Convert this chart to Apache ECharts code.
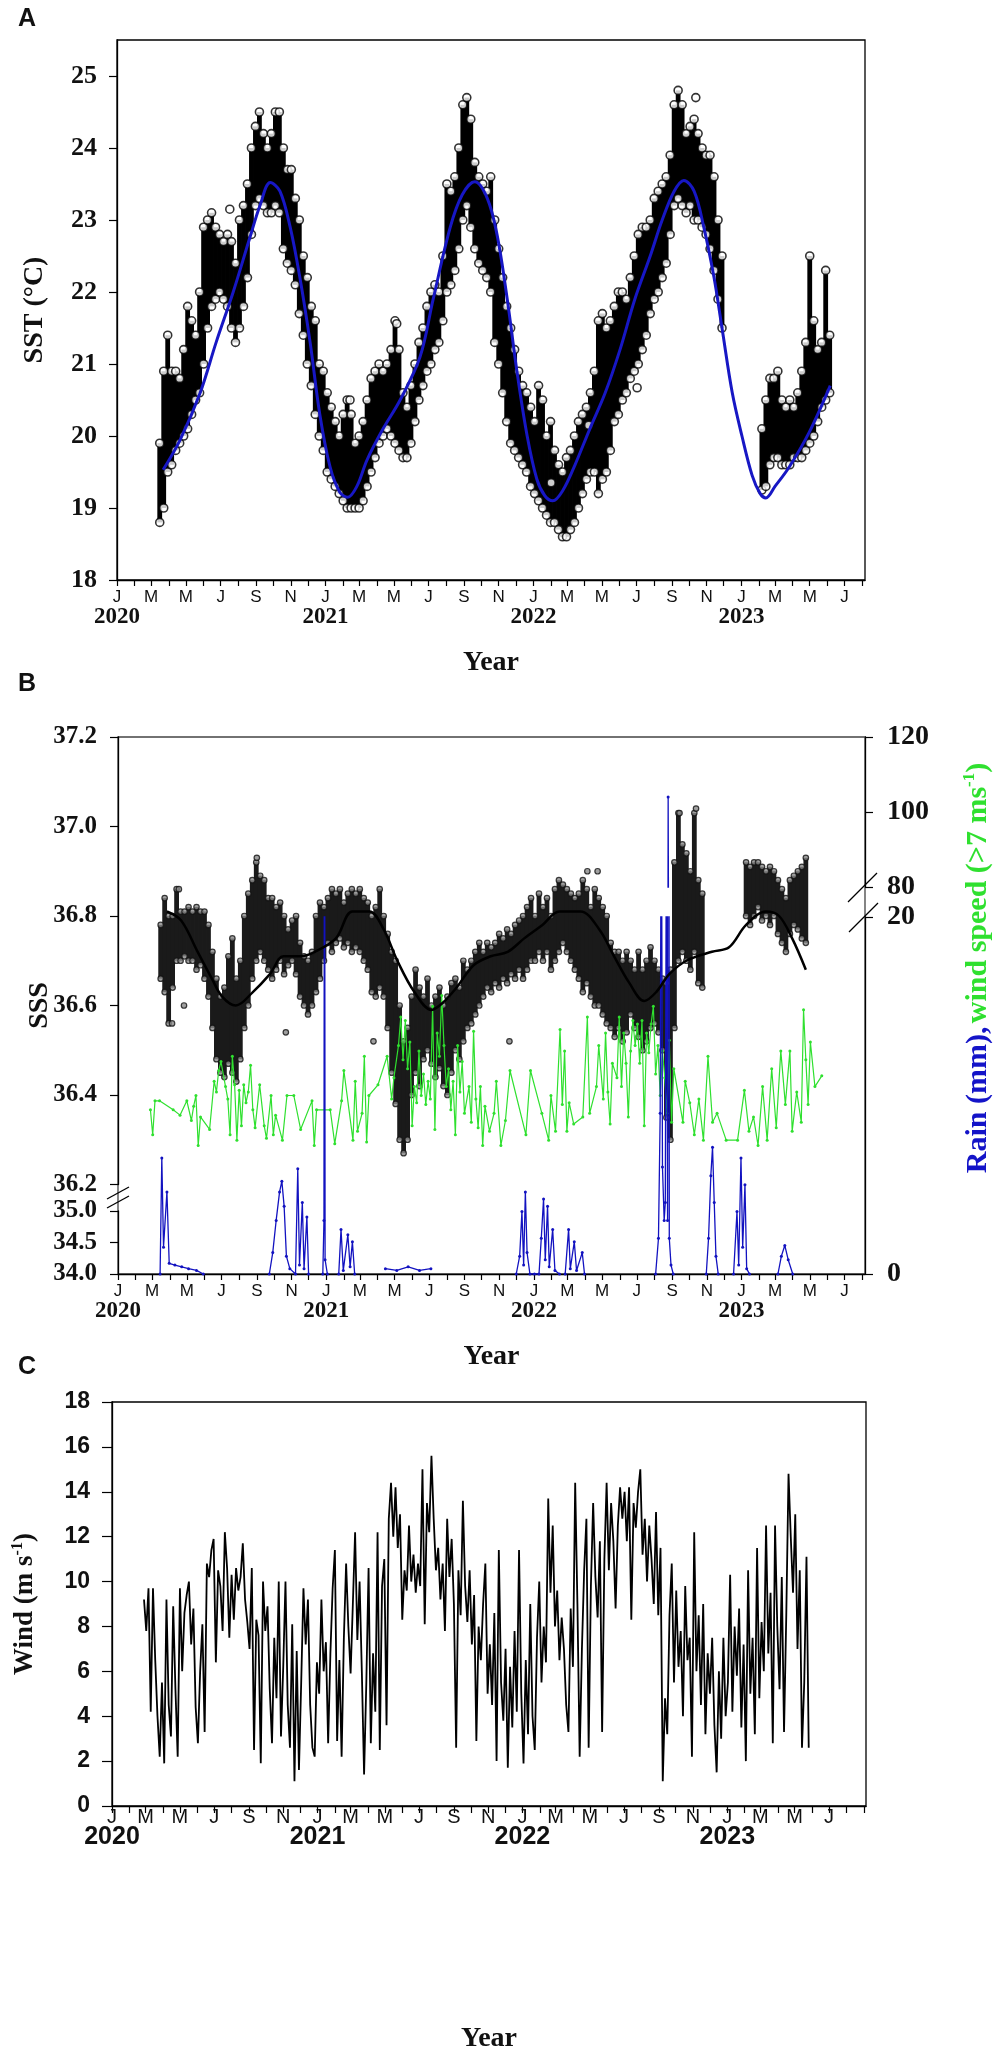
<!DOCTYPE html>
<html>
<head>
<meta charset="UTF-8">
<title>SST, SSS, rain and wind</title>
<style>
  html, body { margin: 0; padding: 0; background: #fff; }
  #chart { width: 1004px; height: 2064px; }
</style>
</head>
<body>
<div id="chart"></div>
<script src="https://cdn.jsdelivr.net/npm/echarts@6/dist/echarts.min.js"></script>
<script type="text/javascript">
// x values are days counted from 2020-01-01
var weekStart = 75; // 2020-03-16, first weekly SST / SSS sample
var weekStep = 7;

// SST (panel A): weekly low / high of the point cloud
var sstLo = [18.8,19.0,19.5,19.6,19.8,19.9,20.0,20.1,20.3,20.5,
  20.6,21.0,21.5,21.8,21.9,22.0,21.9,21.8,21.5,21.3,
  21.5,21.8,22.2,22.8,23.2,23.3,23.2,23.1,23.1,23.2,
  23.1,22.6,22.4,22.3,22.1,21.7,21.4,21.0,20.7,20.3,
  20.0,19.8,19.5,19.4,19.3,19.2,19.1,19.0,19.0,19.0,
  19.0,19.1,19.3,19.5,19.7,19.9,20.0,20.1,20.0,19.9,
  19.8,19.7,19.7,19.9,20.2,20.5,20.7,20.9,21.0,21.2,
  21.3,21.6,22.0,22.1,22.3,22.6,23.0,23.2,22.9,22.6,
  22.4,22.3,22.2,22.0,21.3,21.0,20.6,20.2,19.9,19.8,
  19.7,19.6,19.5,19.3,19.2,19.1,19.0,18.9,18.8,18.8,
  18.7,18.6,18.6,18.7,18.8,19.0,19.2,19.4,19.5,19.5,
  19.2,19.4,19.5,19.8,20.2,20.3,20.5,20.6,20.8,20.9,
  21.0,21.2,21.4,21.7,21.9,22.0,22.2,22.4,22.8,23.2,
  23.3,23.2,23.1,23.2,23.0,23.0,22.9,22.8,22.6,22.3,
  21.9,21.5,null,null,null,null,null,null,null,null,
  null,19.25,19.3,19.6,19.7,19.7,19.6,19.6,19.6,19.7,
  19.7,19.7,19.8,19.9,20.0,20.2,20.4,20.5,20.6];
var sstHi = [19.9,20.9,21.4,20.9,20.9,20.8,21.2,21.8,21.6,21.4,
  22.0,22.9,23.0,23.1,22.9,22.8,22.7,22.8,22.7,22.4,
  23.0,23.2,23.5,24.0,24.3,24.5,24.2,24.0,24.2,24.5,
  24.5,24.0,23.7,23.7,23.3,23.0,22.5,22.2,21.8,21.6,
  21.0,20.9,20.6,20.4,20.2,20.0,20.3,20.5,20.3,19.9,
  20.0,20.2,20.5,20.8,20.9,21.0,20.9,21.0,21.2,21.6,
  21.2,20.6,20.4,20.7,21.0,21.3,21.5,21.8,22.0,22.1,
  22.0,22.5,23.5,23.4,23.6,24.0,24.6,24.7,24.4,23.8,
  23.6,23.5,23.4,23.6,23.0,22.6,22.2,21.8,21.5,21.2,
  20.9,20.7,20.6,20.4,20.2,20.7,20.5,20.0,20.2,19.8,
  19.6,19.5,19.7,19.8,20.0,20.2,20.3,20.4,20.6,20.9,
  21.6,21.7,21.5,21.6,21.8,22.0,22.0,21.9,22.2,22.5,
  22.8,22.9,22.9,23.0,23.3,23.4,23.5,23.6,23.9,24.6,
  24.8,24.6,24.2,24.3,24.4,24.2,24.0,23.9,23.9,23.6,
  23.0,22.5,null,null,null,null,null,null,null,null,
  null,20.1,20.5,20.8,20.8,20.9,20.5,20.4,20.5,20.4,
  20.6,20.9,21.3,22.5,21.6,21.2,21.3,22.3,21.4];
var sstOutDay = [198, 409, 491, 762, 828, 913, 1016];
var sstOutVal = [23.15, 20.5, 21.56, 19.35, 20.15, 20.67, 24.7];
// fitted SST curve (blue)
var sstFitDay = [81,111,146,174,204,233,251,269,286,304,321,339,356,374,391,405,421,439,467,497,
  532,555,585,606,628,650,667,685,702,720,737,751,765,783,804,830,857,883,909,936,
  957,978,995,1013,1030,1048,1062,1080,1097,1115,1129,1139,1155,1180,1215,1252];
var sstFitVal = [19.53,19.95,20.6,21.3,22.0,22.75,23.2,23.52,23.4,22.9,22.2,21.3,20.3,19.57,19.22,19.15,19.3,19.67,20.1,20.5,
  21.1,21.9,22.9,23.35,23.53,23.3,22.8,21.9,20.9,20.0,19.4,19.17,19.1,19.25,19.6,20.1,20.6,21.2,21.9,22.5,
  23.0,23.4,23.55,23.4,22.9,22.2,21.5,20.6,20.0,19.45,19.2,19.14,19.3,19.57,20.05,20.7];

// SSS (panel B): weekly low / high of the point cloud
var sssLo = [36.66,36.63,36.56,36.64,36.70,36.70,36.71,36.70,36.70,36.68,
  36.69,36.66,36.62,36.55,36.48,36.45,36.44,36.47,36.45,36.43,
  36.48,36.55,36.60,36.66,36.70,36.72,36.70,36.68,36.66,36.68,
  36.70,36.67,36.69,36.70,36.67,36.62,36.60,36.58,36.60,36.63,
  36.66,36.70,36.74,36.72,36.74,36.75,36.73,36.74,36.72,36.73,
  36.72,36.70,36.68,36.63,36.62,36.64,36.62,36.55,36.45,36.38,
  36.30,36.27,36.30,36.40,36.45,36.42,36.48,36.50,36.47,36.44,
  36.46,36.42,36.40,36.45,36.50,36.48,36.52,36.55,36.56,36.58,
  36.60,36.62,36.64,36.63,36.65,36.64,36.66,36.65,36.67,36.66,
  36.68,36.66,36.68,36.70,36.70,36.72,36.70,36.72,36.68,36.70,
  36.72,36.74,36.72,36.70,36.68,36.66,36.63,36.65,36.62,36.60,
  36.60,36.58,36.56,36.55,36.53,36.55,36.52,36.54,36.58,36.55,
  36.53,36.50,36.52,36.55,36.56,36.54,36.50,36.35,36.30,36.55,
  36.70,36.72,36.70,36.68,36.72,36.65,36.64,
  null,null,null,null,null,null,null,null,null,null,
  36.80,36.78,36.80,36.82,36.79,36.80,36.78,36.80,36.76,36.74,
  36.72,36.76,36.78,36.77,36.75,36.74];
var sssHi = [36.78,36.84,36.80,36.80,36.86,36.81,36.81,36.82,36.81,36.82,
  36.81,36.81,36.78,36.72,36.66,36.62,36.64,36.71,36.75,36.66,
  36.70,36.80,36.85,36.88,36.92,36.89,36.88,36.84,36.84,36.82,
  36.83,36.80,36.77,36.79,36.80,36.74,36.71,36.70,36.72,36.80,
  36.83,36.82,36.84,36.86,36.85,36.86,36.83,36.85,36.86,36.85,
  36.86,36.84,36.83,36.80,36.82,36.86,36.80,36.76,36.72,36.70,
  36.60,36.52,36.55,36.62,36.68,36.64,36.62,36.66,36.60,36.62,
  36.64,36.60,36.62,36.65,36.66,36.64,36.70,36.68,36.70,36.72,
  36.74,36.72,36.74,36.73,36.74,36.76,36.75,36.77,36.76,36.78,
  36.79,36.80,36.82,36.84,36.80,36.85,36.82,36.84,36.80,36.86,
  36.88,36.87,36.86,36.85,36.84,36.85,36.88,36.86,36.82,36.86,
  36.84,36.82,36.80,36.74,36.72,36.72,36.70,36.72,36.70,36.68,
  36.72,36.68,36.70,36.73,36.70,36.68,36.66,36.65,36.68,36.92,
  37.03,36.96,36.94,36.90,37.03,36.88,36.85,
  null,null,null,null,null,null,null,null,null,null,
  36.92,36.91,36.92,36.92,36.91,36.90,36.91,36.90,36.88,36.86,
  36.84,36.88,36.89,36.90,36.91,36.93];
var sssOutDay = [95, 107, 116, 244, 295, 449, 688, 825, 843, 987, 1016];
var sssOutVal = [36.56, 36.86, 36.60, 36.93, 36.54, 36.52, 36.52, 36.90, 36.90, 37.03, 37.04];
// fitted SSS curve (black)
var sssFitDay = [86,111,140,165,183,207,237,267,291,321,346,383,412,442,467,491,521,551,570,595,
  625,655,685,714,746,776,813,846,872,899,925,946,969,999,1044,1074,1104,1139,1162,1185,1209];
var sssFitVal = [36.81,36.79,36.72,36.66,36.62,36.60,36.63,36.67,36.71,36.71,36.72,36.75,36.81,36.81,36.77,36.70,36.63,36.59,36.605,36.64,
  36.69,36.71,36.72,36.75,36.78,36.81,36.81,36.77,36.71,36.65,36.61,36.63,36.67,36.70,36.72,36.73,36.78,36.81,36.80,36.75,36.68];

// daily rain (mm), null breaks the line between events
var rainDay = [74,77,80,86,90,100,112,124,138,150,200,
  266,272,278,284,288,292,296,302,312,316,319,324,327,332,335,345,
  360,362,363,364,368,380,
  388,392,396,404,408,412,416,440,
  470,490,510,530,550,600,
  700,706,710,713,716,719,724,732,740,744,748,751,755,758,764,768,776,781,
  786,792,795,802,806,816,820,880,
  945,950,953,955,957,960,962,964,966,967,969,972,976,1000,
  1034,1038,1042,1045,1048,1051,1055,1068,
  1082,1088,1091,1095,1098,1102,1105,1110,1140,
  1160,1166,1172,1178,1186];
var rainVal = [0,6.5,1.5,4.6,0.6,0.5,0.4,0.3,0.2,0,null,
  0,1.2,3.0,4.6,5.2,3.8,1.0,0.3,0,5.9,0.5,4.0,0.3,3.2,0,null,
  0,3.0,38,0.8,0,null,
  0,2.5,0.2,2.2,0.4,1.8,0,null,
  0.3,0.2,0.4,0.2,0.3,null,
  0,1.0,3.5,0.5,4.6,1.2,0,0,0,2.0,4.2,0.8,3.8,0.4,2.5,0.2,0,null,
  0,2.5,0.3,1.8,0.2,1.2,0,null,
  0,2.0,9,30,6,3,4,28,3,104,2,0.5,0,null,
  0,2.0,5.5,7.1,4.0,1.0,0,null,
  0,3.5,0.5,6.5,1.5,5.0,0.3,0,null,
  0,1.0,1.6,0.8,0];

// wind speed (panel C), every 4 days from 2020-02-27
var windStart = 57;
var windStep = 4;
var windVal = [9.2,7.8,9.7,4.2, 9.7,6.5,4.0,2.2,5.5,1.9,
  9.2,4.5,3.1,8.9,5.2,2.2,9.7,6.0,8.6, 9.4,10.0,7.2,8.8,4.4,2.8,6.0,8.1,3.3,
  10.8,10.2,11.4,11.9,6.4,10.5,9.8,7.8,12.2, 10.6,7.5,10.3,8.3,10.6,9.6,10.2,11.7,9.2,
  8.2,7.0,10.6,2.5,8.3,7.6,1.9,10.0,7.8, 8.9,5.2,2.8,7.5,4.8,10.0,3.1,6.2,10.0,
  4.5,2.6,8.1,1.1,6.9,1.6, 5.5,9.7,7.2,9.2,4.5,2.6,2.2,6.4,5.0,
  9.2,6.0,7.3,2.8,6.8,9.7,11.4,2.9,6.5, 2.2,7.5,10.8,8.0,5.9,9.0,12.2,7.4,10.0,
  6.0,1.4,5.5,10.6,2.8,6.8,4.2,12.2,2.5, 9.8,11.0,3.6,12.8,14.4,12.0,14.2,11.5,13.0,
  8.3,10.5,9.6,12.5,10.0,11.2,9.5,10.8,9.8, 15.0,8.1,13.5,12.2,15.6,
  12.8,10.5,11.5,9.2,10.8,7.8,12.8,10.2, 11.9,9.0,2.6,10.5,8.5,13.6,
  9.8,8.2,10.5,7.2,9.4,2.9,8.0,6.5,9.0, 10.8,5.0,7.2,4.5,8.6,2.0,11.4,5.5,3.8,
  7.0,1.7,6.2,3.5,7.8,4.2,11.4, 5.0,1.9,6.5,3.2,9.0,4.0,2.5,7.5,10.0,5.5,8.0,6.4,
  13.7,9.5,12.5, 8.0,9.6,6.5,8.4,7.0,4.5,3.3,8.8,6.2, 14.4,9.0,2.2,7.0,
  10.5,12.8,2.6,9.8,13.5,10.2,8.4,11.8,3.3, 11.0,14.4,10.5,13.5,11.8,
  8.8,12.5,14.2,12.8,14.0,11.8,14.2,8.3,13.5,12.4,14.0, 15.0,11.2,12.8,10.0,12.5,11.0,
  9.0,13.1,8.5,11.5,1.1,4.8, 3.2,8.5,10.8,5.5,9.6,6.2,7.8,4.0,9.8,6.5,
  7.5,2.2,12.2,6.0,8.5,4.5, 9.0,3.2,6.8,5.0,7.5,3.6, 1.5,6.0,3.0,7.5,4.0,5.5,
  10.3,4.2,8.0,5.8,8.8,3.5,7.2, 2.0,10.5,5.0,7.5,3.2,11.5,4.8,8.2,6.0,
  12.5,6.8,9.5,2.8,12.5,8.0,5.2,10.2,3.3, 8.5,14.8,12.0,9.5,13.0,7.0,10.5,
  2.6,5.5,11.1,2.6];
var windLimit = 7; // green series in panel B: wind speed above 7 m/s

var monthLetters = ['J', 'F', 'M', 'A', 'M', 'J', 'J', 'A', 'S', 'O', 'N', 'D'];
var serif = '"Liberation Serif", "Times New Roman", serif';
var sans = '"Liberation Sans", Arial, sans-serif';
var ink = '#111';

function monthDay(y, m) {
  return Math.round((Date.UTC(y, m, 1) - Date.UTC(2020, 0, 1)) / 864e5);
}
function monthList(endY, endM, step) {
  var out = [];
  for (var y = 2020; y <= endY; y++) {
    for (var m = 0; m < 12; m += step) {
      if (y === endY && m > endM) break;
      out.push(monthDay(y, m));
    }
  }
  return out;
}
function dayDate(v) {
  return new Date(Date.UTC(2020, 0, 1) + v * 864e5);
}
function weekBand(lo, hi) {
  var out = [];
  for (var i = 0; i < lo.length; i++) {
    if (lo[i] != null) out.push([weekStart + weekStep * i, lo[i], hi[i]]);
  }
  return out;
}
function weekEdges(lo, hi, outDay, outVal) {
  var out = [];
  for (var i = 0; i < lo.length; i++) {
    if (lo[i] != null) {
      out.push([weekStart + weekStep * i, lo[i]]);
      out.push([weekStart + weekStep * i, hi[i]]);
    }
  }
  for (var j = 0; j < outDay.length; j++) out.push([outDay[j], outVal[j]]);
  return out;
}
function pairs(xs, ys) {
  var out = [];
  for (var i = 0; i < xs.length; i++) out.push([xs[i], ys[i]]);
  return out;
}
function bandRender(width, fill) {
  return function (params, api) {
    var x = api.value(0);
    var top = api.coord([x, api.value(2)]);
    var bot = api.coord([x, api.value(1)]);
    return {
      type: 'rect',
      shape: { x: top[0] - width / 2, y: top[1], width: width, height: bot[1] - top[1] },
      style: { fill: fill }
    };
  };
}

var windData = [], windHigh = [];
for (var k = 0; k < windVal.length; k++) {
  windData.push([windStart + windStep * k, windVal[k]]);
  if (windVal[k] > windLimit) windHigh.push([windStart + windStep * k, windVal[k]]);
}
var rainData = pairs(rainDay, rainVal);

function monthLabel(yearFont, monthSize) {
  return {
    margin: 8,
    showMinLabel: true,
    showMaxLabel: true,
    hideOverlap: false,
    formatter: function (v) {
      var d = dayDate(v);
      var m = d.getUTCMonth();
      var s = '{m|' + monthLetters[m] + '}';
      if (m === 0) s += '\n{y|' + d.getUTCFullYear() + '}';
      return s;
    },
    rich: {
      m: { fontFamily: sans, fontSize: monthSize, lineHeight: 18, color: ink },
      y: yearFont
    }
  };
}

function timeAxis(grid, max, visible, labels, ticks, yearFont, nameGap, monthSize) {
  var ax = {
    type: 'value', gridIndex: grid, min: 0, max: max,
    show: visible,
    splitLine: { show: false },
    axisLine: { show: visible, lineStyle: { color: '#000', width: 1.3 } },
    axisTick: { show: visible, customValues: ticks, length: 6, lineStyle: { color: '#000', width: 1.2 } },
    axisLabel: { show: false }
  };
  if (visible) {
    ax.axisLabel = monthLabel(yearFont, monthSize || 17);
    ax.axisLabel.customValues = labels;
    ax.name = 'Year';
    ax.nameLocation = 'middle';
    ax.nameGap = nameGap;
    ax.nameMoveOverlap = false;
    ax.nameTextStyle = { fontFamily: serif, fontWeight: 'bold', fontSize: 28, color: ink };
  }
  return ax;
}

function valueAxis(grid, min, max, values, opts) {
  return {
    type: 'value', gridIndex: grid, min: min, max: max,
    position: opts.position || 'left',
    splitLine: { show: false },
    axisLine: { show: true, onZero: false, lineStyle: { color: '#000', width: 1.3 } },
    axisTick: { show: true, customValues: values, length: opts.tick || 8, lineStyle: { color: '#000', width: 1.2 } },
    axisLabel: {
      customValues: values, margin: opts.margin || 20,
      showMinLabel: true, showMaxLabel: true,
      fontFamily: opts.font || serif, fontWeight: 'bold', fontSize: opts.size || 26, color: ink,
      formatter: opts.formatter
    }
  };
}

function grid(left, top, width, height, border) {
  var g = { left: left, top: top, width: width, height: height, outerBoundsMode: 'none', containLabel: false };
  if (border) { g.show = true; g.borderColor = border; g.borderWidth = 1.3; g.backgroundColor = 'transparent'; }
  return g;
}

var ticksAB = monthList(2023, 7, 1);
var labelsAB = monthList(2023, 6, 2);
var ticksC = monthList(2023, 8, 1);
var labelsC = monthList(2023, 6, 2);
var yearsC = monthList(2023, 0, 12);
var serifYear = { fontFamily: serif, fontWeight: 'bold', fontSize: 23, lineHeight: 22, color: ink };

// panel C: month letters on one axis, years on a second axis of the same grid
var xAxC = timeAxis(6, 1343, true, labelsC, ticksC, null, 219, 20);
xAxC.axisLabel.margin = 3;
xAxC.axisLabel.formatter = function (v) { return monthLetters[dayDate(v).getUTCMonth()]; };
xAxC.axisLabel.rich = null;
xAxC.axisLabel.fontFamily = sans;
xAxC.axisLabel.fontSize = 20;
xAxC.axisLabel.lineHeight = 16;
xAxC.axisLabel.color = ink;
xAxC.axisTick.length = 7;
xAxC.position = 'bottom';
var xAxCYears = {
  type: 'value', gridIndex: 6, min: 0, max: 1343, position: 'bottom',
  splitLine: { show: false }, axisLine: { show: false }, axisTick: { show: false },
  axisLabel: {
    customValues: yearsC, margin: 20, showMinLabel: true, showMaxLabel: true, hideOverlap: false,
    fontFamily: sans, fontWeight: 'bold', fontSize: 25, lineHeight: 22, color: ink,
    formatter: function (v) { return String(dayDate(v).getUTCFullYear()); }
  }
};

var sssBoxAxis = {
  type: 'value', gridIndex: 1, min: 0, max: 1,
  axisLine: { show: false }, axisTick: { show: false }, axisLabel: { show: false }, splitLine: { show: false },
  name: 'SSS', nameLocation: 'middle', nameGap: 64, nameRotate: 90, nameMoveOverlap: false,
  nameTextStyle: { fontFamily: serif, fontWeight: 'bold', fontSize: 28, color: ink }
};

var yA = valueAxis(0, 18, 25.5, [18, 19, 20, 21, 22, 23, 24, 25], {});
yA.name = 'SST (\u00B0C)';
yA.nameLocation = 'middle'; yA.nameGap = 68; yA.nameRotate = 90; yA.nameMoveOverlap = false;
yA.nameTextStyle = { fontFamily: serif, fontWeight: 'bold', fontSize: 28, color: ink };

var fmt1 = function (v) { return v.toFixed(1); };
var ySssUp = valueAxis(2, 36.2, 37.2, [36.2, 36.4, 36.6, 36.8, 37.0, 37.2], { formatter: fmt1, size: 25, margin: 21 });
var ySssLow = valueAxis(3, 34, 35, [34, 34.5, 35], { formatter: fmt1, size: 25, margin: 21 });
var yRainLow = valueAxis(4, 0, 20, [0, 20], { position: 'right', margin: 22, size: 28 });
var yRainUp = valueAxis(5, 80, 120, [80, 100, 120], { position: 'right', margin: 22, size: 28 });

var yC = valueAxis(6, 0, 18, [0, 2, 4, 6, 8, 10, 12, 14, 16, 18], { font: sans, size: 23, margin: 22, tick: 10 });
yC.name = '{a|Wind (m s}{s|-1}{a|)}';
yC.nameLocation = 'middle'; yC.nameGap = 72; yC.nameRotate = 90; yC.nameMoveOverlap = false;
yC.nameTextStyle = {
  rich: {
    a: { fontFamily: serif, fontWeight: 'bold', fontSize: 27, lineHeight: 30, color: ink },
    s: { fontFamily: serif, fontWeight: 'bold', fontSize: 16, lineHeight: 30, verticalAlign: 'top', color: ink }
  }
};

var option = {
  backgroundColor: '#fff',
  animation: false,
  title: [
    { text: 'A', left: 13, top: 2, textStyle: { fontFamily: sans, fontWeight: 'bold', fontSize: 25, color: ink } },
    { text: 'B', left: 13, top: 667, textStyle: { fontFamily: sans, fontWeight: 'bold', fontSize: 25, color: ink } },
    { text: 'C', left: 13, top: 1350, textStyle: { fontFamily: sans, fontWeight: 'bold', fontSize: 25, color: ink } }
  ],
  grid: [
    grid(117, 40, 748, 540, '#000'),
    grid(118, 737, 747, 537, '#444'),
    grid(118, 737, 747, 447.5),
    grid(118, 1211, 747, 63),
    grid(118, 917, 747, 357),
    grid(118, 737, 747, 150),
    grid(112, 1402, 754, 404, '#000')
  ],
  xAxis: [
    timeAxis(0, 1313, true, labelsAB, ticksAB, serifYear, 69),
    timeAxis(1, 1313, true, labelsAB, ticksAB, serifYear, 69),
    timeAxis(2, 1313, false),
    timeAxis(3, 1313, false),
    timeAxis(4, 1313, false),
    timeAxis(5, 1313, false),
    xAxC,
    xAxCYears
  ],
  yAxis: [yA, sssBoxAxis, ySssUp, ySssLow, yRainLow, yRainUp, yC],
  series: [
    { type: 'custom', xAxisIndex: 0, yAxisIndex: 0, renderItem: bandRender(4.8, '#000'),
      encode: { x: 0, y: [1, 2] }, data: weekBand(sstLo, sstHi), z: 2 },
    { type: 'scatter', xAxisIndex: 0, yAxisIndex: 0, symbol: 'circle', symbolSize: 8,
      itemStyle: { color: '#fff', borderColor: '#000', borderWidth: 1.6 },
      data: weekEdges(sstLo, sstHi, sstOutDay, sstOutVal), z: 3 },
    { type: 'line', xAxisIndex: 0, yAxisIndex: 0, smooth: 0.35, showSymbol: false,
      lineStyle: { color: '#1717c4', width: 3 }, data: pairs(sstFitDay, sstFitVal), z: 5 },

    { type: 'custom', xAxisIndex: 2, yAxisIndex: 2, renderItem: bandRender(4.8, '#1a1a1a'),
      encode: { x: 0, y: [1, 2] }, data: weekBand(sssLo, sssHi), z: 2 },
    { type: 'scatter', xAxisIndex: 2, yAxisIndex: 2, symbol: 'circle', symbolSize: 5.5,
      itemStyle: { color: '#888', borderColor: '#111', borderWidth: 1.2 },
      data: weekEdges(sssLo, sssHi, sssOutDay, sssOutVal), z: 3 },
    { type: 'line', xAxisIndex: 4, yAxisIndex: 4, showSymbol: true, symbol: 'circle', symbolSize: 3,
      itemStyle: { color: '#2fe02f' }, lineStyle: { color: '#2fe02f', width: 1.2 }, data: windHigh, z: 4 },
    { type: 'line', xAxisIndex: 4, yAxisIndex: 4, showSymbol: true, symbol: 'circle', symbolSize: 3,
      itemStyle: { color: '#1212c0' }, lineStyle: { color: '#1212c0', width: 1.3 }, data: rainData, clip: true, z: 5 },
    { type: 'line', xAxisIndex: 5, yAxisIndex: 5, showSymbol: true, symbol: 'circle', symbolSize: 3,
      itemStyle: { color: '#1212c0' }, lineStyle: { color: '#1212c0', width: 1.3 }, data: rainData, clip: true, z: 5 },
    { type: 'line', xAxisIndex: 2, yAxisIndex: 2, smooth: 0.35, showSymbol: false,
      lineStyle: { color: '#000', width: 2.5 }, data: pairs(sssFitDay, sssFitVal), z: 6 },

    { type: 'line', xAxisIndex: 6, yAxisIndex: 6, showSymbol: false,
      lineStyle: { color: '#000', width: 1.8 }, data: windData, z: 3 }
  ],
  graphic: [
    { type: 'line', shape: { x1: 107, y1: 1199, x2: 129, y2: 1187 }, style: { stroke: '#000', lineWidth: 1.3 } },
    { type: 'line', shape: { x1: 107, y1: 1208, x2: 129, y2: 1196 }, style: { stroke: '#000', lineWidth: 1.3 } },
    { type: 'line', shape: { x1: 848, y1: 902, x2: 877, y2: 873 }, style: { stroke: '#000', lineWidth: 1.3 } },
    { type: 'line', shape: { x1: 849, y1: 932, x2: 878, y2: 903 }, style: { stroke: '#000', lineWidth: 1.3 } },
    { type: 'text', x: 978, y: 968, rotation: Math.PI / 2,
      style: {
        text: '{b|Rain (mm),} {g|wind speed (>7 ms}{gs|-1}{g|)}',
        align: 'center', verticalAlign: 'middle',
        rich: {
          b: { fontFamily: serif, fontWeight: 'bold', fontSize: 30, lineHeight: 34, fill: '#1414c8' },
          g: { fontFamily: serif, fontWeight: 'bold', fontSize: 30, lineHeight: 34, fill: '#2fe02f' },
          gs: { fontFamily: serif, fontWeight: 'bold', fontSize: 17, lineHeight: 34, verticalAlign: 'top', fill: '#2fe02f' }
        }
      } }
  ]
};

var chart = echarts.init(document.getElementById('chart'));
chart.setOption(option);
</script>
</body>
</html>
